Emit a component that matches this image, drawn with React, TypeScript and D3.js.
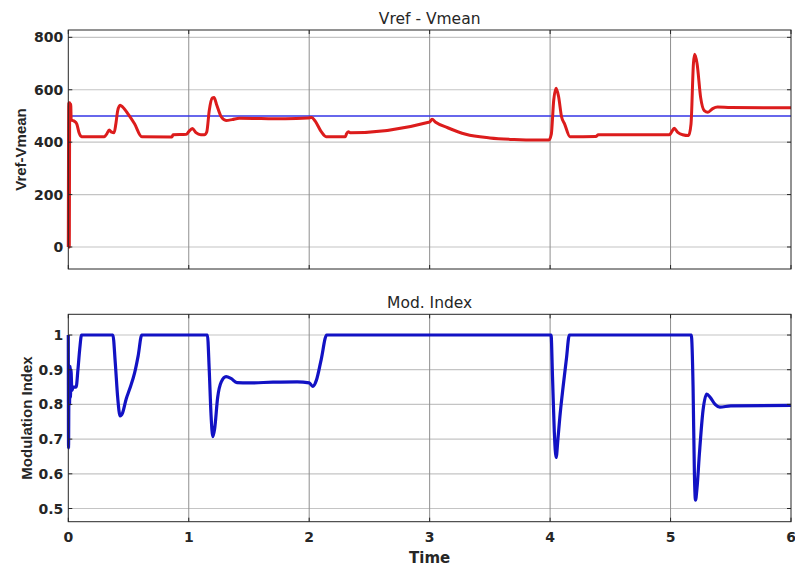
import React from 'react';
import * as d3 from 'd3';

// Vref - Vmean (red)
const vdTime = [0, 0.004, 0.008, 0.012, 0.016, 0.02, 0.024, 0.03, 0.05, 0.07, 0.09, 0.11, 0.3, 0.32, 0.34, 0.36, 0.38, 0.395, 0.41, 0.43, 0.45, 0.5, 0.55, 0.61, 0.86, 0.87, 0.98, 1.0, 1.03, 1.06, 1.1, 1.13, 1.15, 1.17, 1.195, 1.21, 1.23, 1.27, 1.31, 1.36, 1.42, 1.6, 1.8, 1.99, 2.02, 2.05, 2.1, 2.14, 2.3, 2.31, 2.325, 2.34, 3.0, 3.02, 3.05, 3.15, 3.3, 3.5, 3.7, 3.9, 3.99, 4.01, 4.03, 4.05, 4.07, 4.095, 4.12, 4.165, 4.38, 4.4, 4.99, 5.01, 5.03, 5.06, 5.1, 5.15, 5.17, 5.19, 5.2, 5.22, 5.25, 5.28, 5.31, 5.35, 5.39, 5.5, 6.0];
const vdValues = [0, 550, 0, 550, 488, 546, 486, 484, 480, 470, 435, 421, 421, 432, 446, 438, 436, 470, 520, 541, 535, 505, 470, 421, 420, 428, 430, 440, 452, 436, 428, 428, 440, 520, 568, 570, 545, 497, 483, 486, 491, 490, 489, 492, 494, 480, 440, 421, 421, 432, 440, 436, 477, 487, 476, 455, 430, 416, 410, 408, 408, 430, 560, 606, 575, 497, 470, 421, 422, 428, 428, 440, 453, 437, 428, 425, 470, 700, 735, 700, 570, 520, 514, 528, 534, 532, 531];
const vrefLevel = 500;

// Modulation index (blue)
const miTime = [0, 0.002, 0.006, 0.01, 0.014, 0.018, 0.022, 0.03, 0.04, 0.065, 0.08, 0.095, 0.11, 0.37, 0.39, 0.41, 0.43, 0.45, 0.48, 0.51, 0.55, 0.58, 0.61, 1.155, 1.17, 1.185, 1.2, 1.215, 1.24, 1.27, 1.31, 1.35, 1.4, 1.5, 1.7, 1.9, 2.0, 2.03, 2.06, 2.1, 2.145, 4.008, 4.02, 4.035, 4.05, 4.065, 4.08, 4.108, 4.135, 4.16, 5.172, 5.187, 5.198, 5.207, 5.22, 5.24, 5.27, 5.3, 5.33, 5.37, 5.41, 5.5, 6.0];
const miValues = [1.0, 0.675, 0.9, 0.8, 0.91, 0.82, 0.9, 0.84, 0.85, 0.85, 0.9, 0.96, 1.0, 1.0, 0.92, 0.82, 0.767, 0.775, 0.815, 0.845, 0.89, 0.94, 1.0, 1.0, 0.9, 0.77, 0.707, 0.73, 0.82, 0.865, 0.88, 0.875, 0.863, 0.862, 0.864, 0.865, 0.862, 0.852, 0.87, 0.93, 1.0, 1.0, 0.88, 0.72, 0.647, 0.7, 0.76, 0.851, 0.93, 1.0, 1.0, 0.85, 0.6, 0.524, 0.56, 0.66, 0.784, 0.83, 0.82, 0.8, 0.792, 0.796, 0.797];

const xTicks = [0, 1, 2, 3, 4, 5, 6];
const vdTicks = [0, 200, 400, 600, 800];
const miTicks = [0.5, 0.6, 0.7, 0.8, 0.9, 1];

const W = 795;
const H = 567;
const left = 68.3;
const right = 791;
const axisColor = '#262626';

function Panel({top, bottom, yDomain, yTicks, title, yLabel, labelX, showX, children}: any) {
    const x = d3.scaleLinear().domain([0, 6]).range([left, right]);
    const y = d3.scaleLinear().domain(yDomain).range([bottom, top]);
    return (
        <g>
            {yTicks.map((t: number) => (
                <line key={'h' + t} x1={left} x2={right} y1={y(t)} y2={y(t)} stroke="#c4c4c4" strokeWidth={1.2}/>
            ))}
            {xTicks.slice(1, -1).map(t => (
                <line key={'v' + t} x1={x(t)} x2={x(t)} y1={top} y2={bottom} stroke="#8f8f8f" strokeWidth={1}/>
            ))}
            {children(x, y)}
            <rect x={left} y={top} width={right - left} height={bottom - top} fill="none" stroke={axisColor} strokeWidth={1}/>
            {yTicks.map((t: number) => (
                <g key={'yt' + t}>
                    <line x1={left} x2={left + 4} y1={y(t)} y2={y(t)} stroke={axisColor}/>
                    <line x1={right - 4} x2={right} y1={y(t)} y2={y(t)} stroke={axisColor}/>
                    <text x={left - 5} y={y(t) + 5} textAnchor="end" fontFamily="DejaVu Sans" fontWeight="bold"
                          fontSize={14} fill={axisColor}>{t}</text>
                </g>
            ))}
            {xTicks.map(t => (
                <g key={'xt' + t}>
                    <line x1={x(t)} x2={x(t)} y1={bottom} y2={bottom - 4} stroke={axisColor}/>
                    <line x1={x(t)} x2={x(t)} y1={top} y2={top + 4} stroke={axisColor}/>
                    {showX && <text x={x(t)} y={bottom + 20} textAnchor="middle" fontFamily="DejaVu Sans"
                                    fontWeight="bold" fontSize={14} fill={axisColor}>{t}</text>}
                </g>
            ))}
            <text x={(left + right) / 2} y={top - 6} textAnchor="middle" fontFamily="DejaVu Sans" fontSize={15.5}
                  fill={axisColor}>{title}</text>
            <text transform={`translate(${labelX},${(top + bottom) / 2}) rotate(-90)`} textAnchor="middle"
                  fontFamily="Liberation Sans" fontWeight="bold" fontSize={15} fill={axisColor}>{yLabel}</text>
        </g>
    );
}

export default function App() {
    const vdData = vdTime.map((t, i) => [t, vdValues[i]] as [number, number]);
    const miData = miTime.map((t, i) => [t, miValues[i]] as [number, number]);

    return (
        <svg width={W} height={H} style={{position: 'absolute', left: 0, top: 0, background: '#fff'}}>
            <rect width={W} height={H} fill="#fff"/>
            <Panel top={30} bottom={269} yDomain={[-84, 828]} yTicks={vdTicks} title="Vref - Vmean"
                   yLabel="Vref-Vmean" labelX={25.5} showX={false}>
                {(x: any, y: any) => {
                    const line = d3.line<[number, number]>().x(d => x(d[0])).y(d => y(d[1])).curve(d3.curveMonotoneX);
                    return (
                        <g>
                            <line x1={x(0)} x2={x(6)} y1={y(vrefLevel)} y2={y(vrefLevel)} stroke="#3535e6" strokeWidth={1.5}/>
                            <path d={line(vdData) || ''} fill="none" stroke="#dc1c1c" strokeWidth={3} strokeLinejoin="round"/>
                        </g>
                    );
                }}
            </Panel>
            <Panel top={314.3} bottom={521.7} yDomain={[0.462, 1.0597]} yTicks={miTicks} title="Mod. Index"
                   yLabel="Modulation Index" labelX={31.5} showX={true}>
                {(x: any, y: any) => {
                    const line = d3.line<[number, number]>().x(d => x(d[0])).y(d => y(d[1])).curve(d3.curveMonotoneX);
                    return <path d={line(miData) || ''} fill="none" stroke="#1212c4" strokeWidth={3.2} strokeLinejoin="round"/>;
                }}
            </Panel>
            <text x={(left + right) / 2} y={563} textAnchor="middle" fontFamily="DejaVu Sans" fontWeight="bold"
                  fontSize={15} fill={axisColor}>Time</text>
        </svg>
    );
}
